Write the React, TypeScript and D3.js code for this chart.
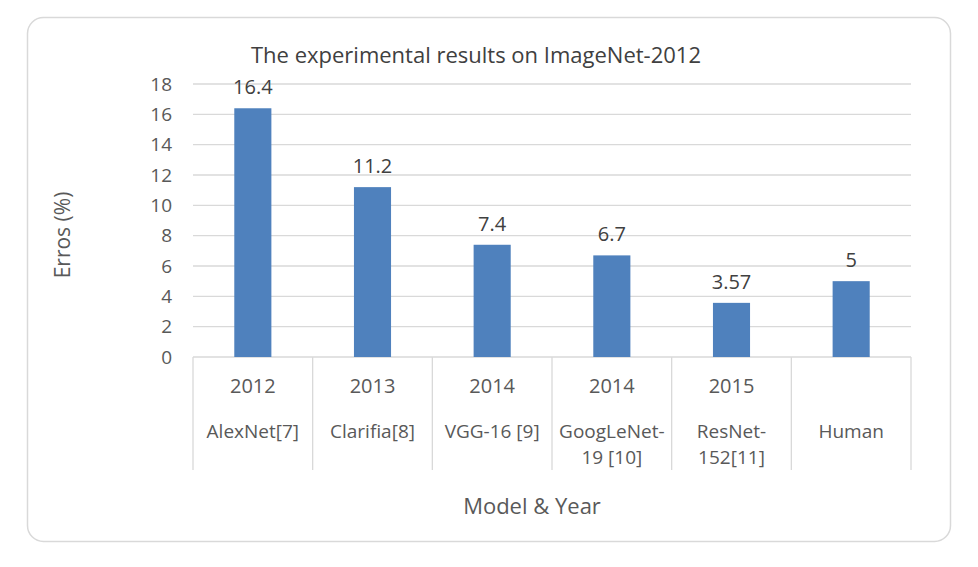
import React, { useEffect, useRef } from 'react';
import { scaleBand, scaleLinear, select } from 'd3';

const models = ['AlexNet[7]', 'Clarifia[8]', 'VGG-16 [9]', 'GoogLeNet-\n19 [10]', 'ResNet-\n152[11]', 'Human'];
const years = ['2012', '2013', '2014', '2014', '2015', ''];
const errors = [16.4, 11.2, 7.4, 6.7, 3.57, 5];
const yTicks = [0, 2, 4, 6, 8, 10, 12, 14, 16, 18];

const FONT = '"Open Sans", "Noto Sans", sans-serif';

const App = () => {
  const ref = useRef<SVGSVGElement | null>(null);

  useEffect(() => {
    const svg = select(ref.current);
    svg.selectAll('*').remove();
    const width = 978;
    const height = 567;
    const left = 193;
    const right = 911;
    const top = 84;
    const bottom = 357;

    svg
      .append('rect')
      .attr('x', 27.5)
      .attr('y', 17.5)
      .attr('width', 923)
      .attr('height', 524)
      .attr('rx', 16)
      .attr('fill', '#fff')
      .attr('stroke', '#d9d9d9')
      .attr('stroke-width', 1.5);

    const x = scaleBand<number>()
      .domain(errors.map((_, i) => i))
      .range([left, right])
      .paddingInner(0)
      .paddingOuter(0);
    const y = scaleLinear().domain([0, 18]).range([bottom, top]);

    const barW = x.bandwidth() * 0.31;

    svg
      .append('g')
      .selectAll('line')
      .data(yTicks)
      .enter()
      .append('line')
      .attr('x1', left)
      .attr('x2', right)
      .attr('y1', (d) => y(d))
      .attr('y2', (d) => y(d))
      .attr('stroke', '#d9d9d9')
      .attr('stroke-width', 1.3);

    svg
      .append('g')
      .selectAll('text')
      .data(yTicks)
      .enter()
      .append('text')
      .attr('x', 172)
      .attr('y', (d) => y(d))
      .attr('dy', '0.35em')
      .attr('text-anchor', 'end')
      .attr('fill', '#595959')
      .style('font-family', FONT)
      .style('font-size', '19px')
      .text((d) => d);

    svg
      .append('g')
      .selectAll('rect')
      .data(errors)
      .enter()
      .append('rect')
      .attr('x', (_, i) => (x(i) ?? 0) + (x.bandwidth() - barW) / 2)
      .attr('y', (d) => y(d))
      .attr('width', barW)
      .attr('height', (d) => bottom - y(d))
      .attr('fill', '#4f81bd');

    svg
      .append('g')
      .selectAll('text')
      .data(errors)
      .enter()
      .append('text')
      .attr('x', (_, i) => (x(i) ?? 0) + x.bandwidth() / 2)
      .attr('y', (d) => y(d) - 14)
      .attr('text-anchor', 'middle')
      .attr('fill', '#404040')
      .style('font-family', FONT)
      .style('font-size', '20px')
      .text((d) => d);

    // category dividers
    const divs = [...errors.map((_, i) => x(i) ?? 0), right];
    svg
      .append('g')
      .selectAll('line')
      .data(divs)
      .enter()
      .append('line')
      .attr('x1', (d) => d)
      .attr('x2', (d) => d)
      .attr('y1', bottom)
      .attr('y2', 470)
      .attr('stroke', '#d9d9d9')
      .attr('stroke-width', 1.3);

    svg
      .append('g')
      .selectAll('text')
      .data(years)
      .enter()
      .append('text')
      .attr('x', (_, i) => (x(i) ?? 0) + x.bandwidth() / 2)
      .attr('y', 393)
      .attr('text-anchor', 'middle')
      .attr('fill', '#595959')
      .style('font-family', FONT)
      .style('font-size', '20px')
      .text((d) => d);

    const modelText = svg
      .append('g')
      .selectAll('text')
      .data(models)
      .enter()
      .append('text')
      .attr('x', (_, i) => (x(i) ?? 0) + x.bandwidth() / 2)
      .attr('y', 438)
      .attr('text-anchor', 'middle')
      .attr('fill', '#595959')
      .style('font-family', FONT)
      .style('font-size', '19px');
    modelText
      .selectAll('tspan')
      .data((d, i) => d.split('\n').map((t) => ({ t, i })))
      .enter()
      .append('tspan')
      .attr('x', (d) => (x(d.i) ?? 0) + x.bandwidth() / 2)
      .attr('dy', (_, j) => (j === 0 ? 0 : 26))
      .text((d) => d.t);

    svg
      .append('text')
      .attr('x', 476)
      .attr('y', 63)
      .attr('text-anchor', 'middle')
      .attr('fill', '#404040')
      .style('font-family', FONT)
      .style('font-size', '22px')
      .text('The experimental results on ImageNet-2012');

    svg
      .append('text')
      .attr('x', 532)
      .attr('y', 514)
      .attr('text-anchor', 'middle')
      .attr('fill', '#595959')
      .style('font-family', FONT)
      .style('font-size', '22px')
      .text('Model & Year');

    svg
      .append('text')
      .attr('transform', 'translate(70,235) rotate(-90)')
      .attr('text-anchor', 'middle')
      .attr('fill', '#595959')
      .style('font-family', FONT)
      .style('font-size', '21px')
      .text('Erros (%)');

    svg.attr('width', width).attr('height', height);
  }, []);

  return <svg ref={ref} style={{ position: 'absolute', left: 0, top: 0 }} />;
};

export default App;
